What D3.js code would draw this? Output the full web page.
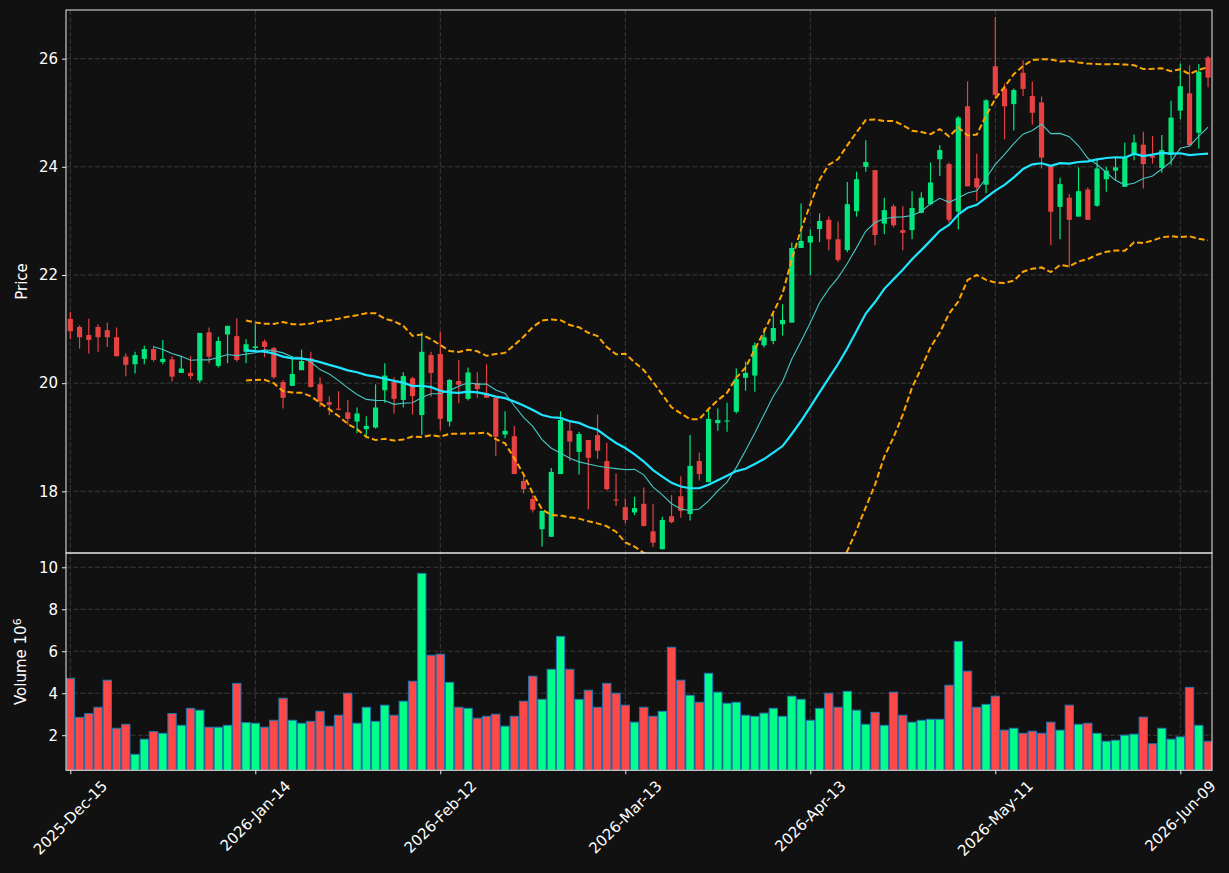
<!DOCTYPE html>
<html>
<head>
<meta charset="utf-8">
<script src="https://cdn.jsdelivr.net/npm/d3@7"></script>
<style>
  body { margin: 0; background: #111111; }
  svg text { font-family: "DejaVu Sans", sans-serif; fill: #ffffff; }
</style>
</head>
<body>
<svg id="chart" width="1229" height="873"></svg>
<script>
// ---- data (one value per trading session) ----
var opens = [21.19,21.04,20.89,21.04,20.98,20.85,20.49,20.35,20.45,20.63,20.39,20.44,20.19,20.19,20.05,20.94,20.32,20.90,20.87,20.58,
  20.65,20.77,20.65,20.02,19.95,20.24,20.46,19.98,19.65,19.53,19.46,19.29,19.15,19.18,19.87,20.02,19.69,20.09,19.41,20.52,
  20.54,19.29,20.04,19.71,20.00,19.81,19.73,19.05,19.02,18.19,17.86,17.30,17.16,18.32,19.12,18.73,18.95,19.04,18.56,17.85,
  17.71,17.61,17.77,17.26,16.93,17.54,17.91,17.58,18.56,18.17,19.26,19.29,19.47,20.10,20.14,20.70,20.78,21.09,21.12,22.50,
  22.60,22.85,23.02,22.66,22.46,23.18,24.00,23.94,22.95,23.27,22.83,22.83,23.15,23.31,24.14,24.05,23.17,25.12,23.79,23.67,
  25.86,25.45,25.16,25.74,25.31,25.19,24.02,23.26,23.43,23.08,23.58,23.28,23.77,23.93,23.63,24.23,24.41,24.20,23.98,24.22,
  25.04,25.36,24.63,26.02]
var highs = [21.32,21.07,21.19,21.09,21.12,21.03,20.55,20.58,20.69,20.69,20.80,20.50,20.50,20.50,20.93,21.03,20.86,21.06,21.20,20.81,
  21.09,20.81,20.67,20.06,20.50,20.62,20.58,20.11,19.76,19.85,19.69,19.55,19.39,19.98,20.37,20.11,20.20,20.12,20.94,20.58,
  20.95,20.08,20.43,20.29,20.20,20.35,19.73,19.48,19.21,18.30,17.93,17.64,18.43,19.48,19.30,19.10,18.95,19.42,18.90,18.33,
  17.87,17.90,18.07,17.77,17.53,17.93,18.28,19.04,18.72,19.52,19.53,19.64,20.27,20.40,20.75,21.02,21.28,21.46,22.60,23.32,
  22.84,23.14,23.08,22.99,23.72,23.91,24.49,23.94,23.43,23.31,23.27,23.55,23.53,24.08,24.40,24.08,24.94,25.58,24.24,25.25,
  26.77,25.54,25.45,25.97,25.58,25.30,24.02,23.80,23.50,23.99,23.62,24.15,24.00,24.17,24.45,24.60,24.65,24.57,24.59,25.22,
  25.91,25.88,25.90,26.05]
var lows = [20.81,20.64,20.55,20.58,20.67,20.49,20.13,20.18,20.35,20.40,20.35,20.03,20.19,20.07,20.01,20.37,20.29,20.37,20.40,20.37,
  20.60,20.48,20.08,19.53,19.95,20.24,19.92,19.56,19.41,19.50,19.23,19.08,18.98,19.16,19.64,19.44,19.55,19.42,19.04,19.75,
  19.13,19.20,19.63,19.68,19.73,19.73,18.66,18.98,18.32,17.96,17.61,16.98,17.16,18.32,18.56,18.31,17.67,18.60,18.02,17.73,
  17.41,17.56,17.35,16.97,16.93,17.41,17.51,17.46,18.20,18.17,19.12,19.10,19.44,19.86,19.84,20.66,20.72,20.88,21.12,22.50,
  22.00,22.61,22.46,22.24,22.42,23.08,23.91,22.55,22.76,22.88,22.46,22.66,23.14,23.29,23.83,22.97,22.84,23.64,23.37,23.51,
  25.26,24.51,24.67,25.31,24.78,23.97,22.55,22.66,22.14,23.08,23.02,23.26,23.54,23.75,23.63,24.12,23.60,24.06,23.89,24.03,
  24.88,24.37,24.34,25.47]
var closes = [20.96,20.85,20.80,20.85,20.85,20.50,20.34,20.52,20.63,20.43,20.45,20.12,20.27,20.13,20.93,20.49,20.78,21.06,20.43,20.72,
  20.68,20.67,20.11,19.73,20.17,20.41,19.93,19.66,19.60,19.51,19.34,19.44,19.21,19.55,20.14,19.71,20.13,19.76,20.58,20.19,
  19.34,20.06,19.97,20.20,19.89,19.73,19.01,19.12,18.32,18.04,17.66,17.64,18.36,19.32,18.92,19.06,18.62,18.75,18.04,17.83,
  17.47,17.69,17.36,17.05,17.47,17.43,17.64,18.47,18.32,19.34,19.32,19.31,20.08,20.19,20.70,20.85,21.02,21.17,22.50,22.63,
  22.72,23.00,22.66,22.28,23.31,23.77,24.09,22.74,23.20,22.92,22.78,23.24,23.43,23.71,24.31,23.02,24.91,23.64,23.62,25.23,
  25.33,25.12,25.42,25.44,25.00,24.17,23.17,23.68,23.02,23.55,23.02,23.97,23.93,23.99,24.17,24.45,24.05,24.17,24.31,24.91,
  25.49,24.40,25.76,25.65]
// volume in millions
var volumes = [4.71,2.85,3.03,3.33,4.62,2.33,2.52,1.09,1.81,2.17,2.09,3.03,2.47,3.28,3.19,2.38,2.38,2.47,4.47,2.60,
  2.57,2.38,2.71,3.76,2.71,2.57,2.66,3.14,2.43,2.95,4.00,2.57,3.33,2.66,3.43,2.95,3.62,4.57,9.71,5.81,
  5.86,4.52,3.33,3.28,2.81,2.90,3.00,2.43,2.90,3.62,4.81,3.71,5.14,6.71,5.14,3.71,4.14,3.33,4.47,4.00,
  3.43,2.62,3.33,2.90,3.14,6.19,4.62,3.90,3.57,4.95,4.05,3.52,3.57,2.95,2.90,3.05,3.28,2.90,3.86,3.71,
  2.71,3.28,4.00,3.33,4.09,3.19,2.52,3.09,2.47,4.05,2.95,2.62,2.71,2.76,2.76,4.38,6.47,5.05,3.33,3.47,
  3.86,2.24,2.33,2.09,2.19,2.09,2.62,2.24,3.43,2.52,2.57,2.09,1.71,1.76,2.00,2.05,2.86,1.59,2.33,1.81,
  1.92,4.28,2.47,1.71]

var tickIndex = [0, 20, 40, 60, 80, 100, 120]
var tickLabels = ["2025-Dec-15", "2026-Jan-14", "2026-Feb-12", "2026-Mar-13", "2026-Apr-13", "2026-May-11", "2026-Jun-09"]
var priceTicks = [18, 20, 22, 24, 26]
var volumeTicks = [2, 4, 6, 8, 10]

// ---- colours ----
var upColor = "#00ff88"
var downColor = "#ff4848"
var gridColor = "#3a3a3a"
var spineColor = "#e8e8e8"
var fontSize = "15px"

var svg = d3.select("#chart")
svg.append("rect").attr("width", 1229).attr("height", 873).style("fill", "#111111")

// panel geometry
var left = 66, right = 1212
var priceTop = 10, priceBottom = 553, volBottom = 770.3

var x = d3.scaleLinear().domain([-0.465, closes.length - 1 + 0.427]).range([left, right])
var yPrice = d3.scaleLinear().domain([16.86, 26.9]).range([priceBottom, priceTop])
var yVol = d3.scaleLinear()
  .domain([0.3 * d3.min(volumes), 1.1 * d3.max(volumes)])
  .range([volBottom, priceBottom])

var step = x(1) - x(0)

// clip paths
var defs = svg.append("defs")
defs.append("clipPath").attr("id", "clipPrice")
  .append("rect").attr("x", left).attr("y", priceTop).attr("width", right - left).attr("height", priceBottom - priceTop)
defs.append("clipPath").attr("id", "clipVol")
  .append("rect").attr("x", left).attr("y", priceBottom).attr("width", right - left).attr("height", volBottom - priceBottom)

// ---- grid ----
var grid = svg.append("g")
  .style("stroke", gridColor)
  .style("stroke-width", 1)
  .style("stroke-dasharray", "5,2.2")

grid.selectAll(".vgrid").data(tickIndex).enter().append("line")
  .attr("x1", d => x(d)).attr("x2", d => x(d))
  .attr("y1", priceTop).attr("y2", volBottom)

grid.selectAll(".pgrid").data(priceTicks).enter().append("line")
  .attr("x1", left).attr("x2", right)
  .attr("y1", d => yPrice(d)).attr("y2", d => yPrice(d))

grid.selectAll(".vgridh").data(volumeTicks).enter().append("line")
  .attr("x1", left).attr("x2", right)
  .attr("y1", d => yVol(d)).attr("y2", d => yVol(d))

// ---- indicators (moving averages & bollinger bands from closes) ----
function rolling(n) {
  var out = []
  for (var i = n - 1; i < closes.length; i++) {
    var win = closes.slice(i - n + 1, i + 1)
    out.push({ i: i, mean: d3.mean(win), sd: d3.deviation(win) })
  }
  return out
}
var ma10 = rolling(10)
var ma20 = rolling(20)

var line = d3.line().x(d => x(d.i))
var pricePlot = svg.append("g").attr("clip-path", "url(#clipPrice)")

// candles
var candleColor = function(i) { return closes[i] >= opens[i] ? upColor : downColor }
var candles = pricePlot.selectAll(".candle").data(d3.range(closes.length)).enter().append("g")
  .style("opacity", 0.9)

candles.append("line")
  .attr("x1", i => x(i)).attr("x2", i => x(i))
  .attr("y1", i => yPrice(highs[i])).attr("y2", i => yPrice(lows[i]))
  .style("stroke", candleColor)
  .style("stroke-width", 1.2)

candles.append("rect")
  .attr("x", i => x(i) - step * 0.28)
  .attr("width", step * 0.56)
  .attr("y", i => yPrice(Math.max(opens[i], closes[i])))
  .attr("height", i => Math.max(1, Math.abs(yPrice(opens[i]) - yPrice(closes[i]))))
  .style("fill", candleColor)

// moving averages
pricePlot.append("path")
  .datum(ma10)
  .attr("d", line.y(d => yPrice(d.mean)))
  .style("fill", "none")
  .style("stroke", "#45c8c4")
  .style("stroke-width", 1.1)

pricePlot.append("path")
  .datum(ma20)
  .attr("d", line.y(d => yPrice(d.mean)))
  .style("fill", "none")
  .style("stroke", "#1ee6ff")
  .style("stroke-width", 2.2)

// bollinger bands
pricePlot.append("path")
  .datum(ma20)
  .attr("d", line.y(d => yPrice(d.mean + 2 * d.sd)))
  .style("fill", "none")
  .style("stroke", "#ffa500")
  .style("stroke-width", 2)
  .style("stroke-dasharray", "6,3")

pricePlot.append("path")
  .datum(ma20)
  .attr("d", line.y(d => yPrice(d.mean - 2 * d.sd)))
  .style("fill", "none")
  .style("stroke", "#ffa500")
  .style("stroke-width", 2)
  .style("stroke-dasharray", "6,3")

// ---- volume bars ----
svg.append("g").attr("clip-path", "url(#clipVol)")
  .selectAll("rect").data(volumes).enter().append("rect")
  .attr("x", (d, i) => x(i) - step * 0.45)
  .attr("width", step * 0.9)
  .attr("y", d => yVol(d))
  .attr("height", d => volBottom - yVol(d))
  .style("fill", (d, i) => closes[i] >= opens[i] ? upColor : downColor)
  .style("stroke", "#1f77b4")
  .style("stroke-width", 1)

// ---- frames ----
var frame = svg.append("g").style("fill", "none").style("stroke", spineColor).style("stroke-width", 1)
frame.append("rect").attr("x", left).attr("y", priceTop).attr("width", right - left).attr("height", priceBottom - priceTop)
frame.append("rect").attr("x", left).attr("y", priceBottom).attr("width", right - left).attr("height", volBottom - priceBottom)

// ---- axes ----
svg.append("g")
  .attr("transform", "translate(" + left + ",0)")
  .call(d3.axisLeft(yPrice).tickValues(priceTicks).tickSize(4).tickPadding(4))
svg.append("g")
  .attr("transform", "translate(" + left + ",0)")
  .call(d3.axisLeft(yVol).tickValues(volumeTicks).tickSize(4).tickPadding(4))
svg.append("g")
  .attr("transform", "translate(0," + volBottom + ")")
  .call(d3.axisBottom(x).tickValues(tickIndex).tickSize(4).tickFormat(""))

svg.selectAll(".domain").remove()
svg.selectAll(".tick line").style("stroke", spineColor)
svg.selectAll(".tick text").style("font-size", fontSize).style("fill", "#ffffff")

// rotated x tick labels: bounding box centred on the tick, top just under it
var xl = svg.append("g").selectAll("text").data(tickIndex).enter().append("text")
  .style("font-size", fontSize)
  .attr("text-anchor", "middle")
  .attr("dy", "0.35em")
  .text((d, i) => tickLabels[i])
xl.each(function(d) {
  var L = this.getComputedTextLength()
  var h = 17
  var cy = volBottom + 7 + (L + h) / (2 * Math.SQRT2)
  d3.select(this).attr("transform", "translate(" + x(d) + "," + cy + ") rotate(-45)")
})

// axis labels
svg.append("text")
  .attr("transform", "translate(27," + (priceTop + priceBottom) / 2 + ") rotate(-90)")
  .attr("text-anchor", "middle")
  .style("font-size", fontSize)
  .text("Price")

var vl = svg.append("text")
  .attr("transform", "translate(26," + (priceBottom + volBottom) / 2 + ") rotate(-90)")
  .attr("text-anchor", "middle")
  .style("font-size", fontSize)
vl.append("tspan").text("Volume  10")
vl.append("tspan").attr("dy", "-0.45em").style("font-size", "11px").text("6")
</script>
</body>
</html>
